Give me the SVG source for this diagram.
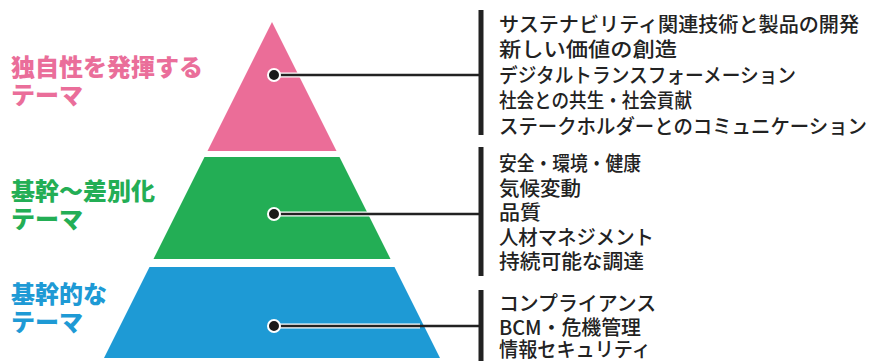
<svg xmlns="http://www.w3.org/2000/svg" width="871" height="361" viewBox="0 0 871 361">
<style>
.lbl{font-family:"Noto Sans CJK JP","Noto Sans",sans-serif;font-weight:900;font-size:24px}
.item{font-family:"Noto Sans CJK JP","Noto Sans",sans-serif;font-weight:500;font-size:20px;fill:#222}
.halo{stroke:#fff;stroke-width:5;fill:none}
.ln{stroke:#222;stroke-width:2.5;fill:none}
.dot{fill:#1a1a1a;stroke:#fff;stroke-width:2}
.bar{fill:#222}
</style>
<rect width="871" height="361" fill="#fff"/>
<g id="tier-top">
<polygon points="272,22 336.5,151 207.5,151" fill="#EB6D98"/>
<text class="lbl" fill="#EA6E9A" x="11" y="76">独自性を発揮する</text>
<text class="lbl" fill="#EA6E9A" x="11" y="104">テーマ</text>
</g>
<g id="tier-mid">
<polygon points="204.5,157 339.5,157 390.5,259 153.5,259" fill="#23AE55"/>
<text class="lbl" fill="#23AE55" x="11" y="200">基幹～差別化</text>
<text class="lbl" fill="#23AE55" x="11" y="228">テーマ</text>
</g>
<g id="tier-base">
<polygon points="149.5,267 394.5,267 440,358 104,358" fill="#1E9AD5"/>
<text class="lbl" fill="#1E9AD5" x="11" y="303">基幹的な</text>
<text class="lbl" fill="#1E9AD5" x="11" y="331">テーマ</text>
</g>
<g id="connectors">
<line class="halo" x1="274" y1="75" x2="340" y2="75"/>
<line class="ln" x1="274" y1="75" x2="481" y2="75"/>
<circle class="dot" cx="274" cy="75" r="6"/>
<line class="halo" x1="274" y1="214" x2="380" y2="214"/>
<line class="ln" x1="274" y1="214" x2="481" y2="214"/>
<circle class="dot" cx="274" cy="214" r="6"/>
<line class="halo" x1="274" y1="326" x2="420" y2="326"/>
<line class="ln" x1="274" y1="326" x2="481" y2="326"/>
<circle class="dot" cx="274" cy="326" r="6"/>
<rect class="bar" x="478.5" y="10" width="5" height="125"/>
<rect class="bar" x="478.5" y="147" width="5" height="129"/>
<rect class="bar" x="478.5" y="290" width="5" height="71"/>
</g>
<g id="list-top">
<text class="item" x="499" y="31.5" textLength="360" lengthAdjust="spacingAndGlyphs">サステナビリティ関連技術と製品の開発</text>
<text class="item" x="499" y="57" textLength="178" lengthAdjust="spacingAndGlyphs">新しい価値の創造</text>
<text class="item" x="499" y="82.5" textLength="297" lengthAdjust="spacingAndGlyphs">デジタルトランスフォーメーション</text>
<text class="item" x="499" y="108" textLength="193" lengthAdjust="spacingAndGlyphs">社会との共生・社会貢献</text>
<text class="item" x="499" y="133.5" textLength="368" lengthAdjust="spacingAndGlyphs">ステークホルダーとのコミュニケーション</text>
</g>
<g id="list-mid">
<text class="item" x="499" y="171" textLength="142" lengthAdjust="spacingAndGlyphs">安全・環境・健康</text>
<text class="item" x="499" y="195.5" textLength="82" lengthAdjust="spacingAndGlyphs">気候変動</text>
<text class="item" x="499" y="220" textLength="42" lengthAdjust="spacingAndGlyphs">品質</text>
<text class="item" x="499" y="244.5" textLength="155" lengthAdjust="spacingAndGlyphs">人材マネジメント</text>
<text class="item" x="499" y="269" textLength="145" lengthAdjust="spacingAndGlyphs">持続可能な調達</text>
</g>
<g id="list-base">
<text class="item" x="499" y="310.5" textLength="157" lengthAdjust="spacingAndGlyphs">コンプライアンス</text>
<text class="item" x="499" y="334.5" textLength="142" lengthAdjust="spacingAndGlyphs">BCM・危機管理</text>
<text class="item" x="499" y="357" textLength="152" lengthAdjust="spacingAndGlyphs">情報セキュリティ</text>
</g>
</svg>
